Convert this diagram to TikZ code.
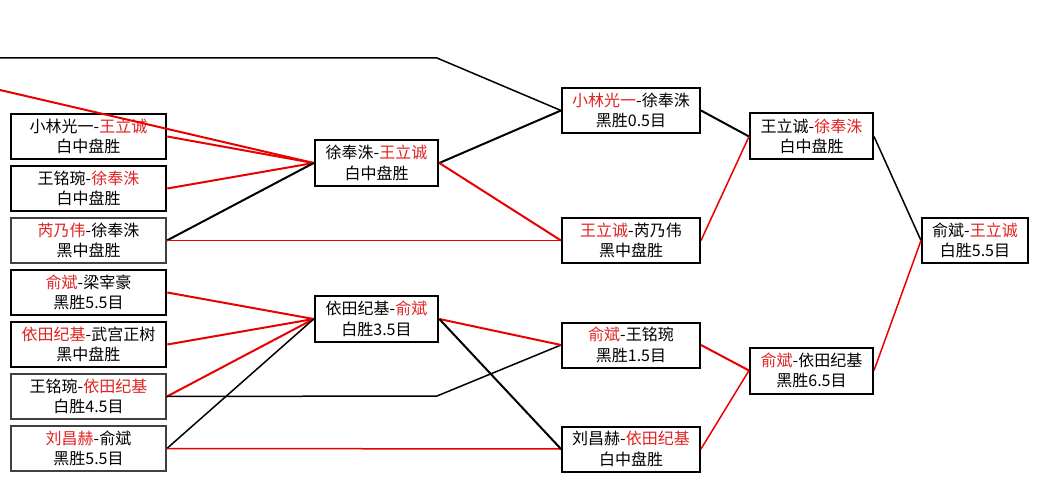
\documentclass[tikz,border=0pt]{standalone}
\usepackage{fontspec}
\newfontfamily\cjk{Noto Sans CJK SC}
\definecolor{tred}{RGB}{225,35,35}
\definecolor{lred}{RGB}{235,0,0}
\begin{document}
\begin{tikzpicture}[x=1pt,y=-1pt,
  every node/.style={font=\cjk\fontsize{16}{20.5}\selectfont, align=center, inner sep=0pt},
  box/.style={draw, line width=2pt, rectangle},
  heavy/.style={box, line width=2.6pt},
  light/.style={box, line width=1.8pt, draw=black!75},
  lw/.style={minimum width=155, minimum height=45},
  mw/.style={minimum width=123, minimum height=46},
  tw/.style={minimum width=138, minimum height=45},
  ww/.style={minimum width=106, minimum height=45},
  bl/.style={line width=2pt, black},
  rl/.style={line width=2pt, lred},
  blt/.style={line width=1.5pt, black},
  rlt/.style={line width=1.5pt, lred}
]
\fill[white] (0,0) rectangle (1039,481);
\useasboundingbox (0,0) rectangle (1039,481);
% left column
\node[heavy,lw] (L1) at (88.5,136.5) {小林光一-\textcolor{tred}{王立诚}\\白中盘胜};
\node[heavy,lw] (L2) at (88.5,188.5) {王铭琬-\textcolor{tred}{徐奉洙}\\白中盘胜};
\node[light,lw] (L3) at (88.5,240.5) {\textcolor{tred}{芮乃伟}-徐奉洙\\黑中盘胜};
\node[heavy,lw] (L4) at (88.5,292.5) {\textcolor{tred}{俞斌}-梁宰豪\\黑胜5.5目};
\node[heavy,lw] (L5) at (88.5,344.5) {\textcolor{tred}{依田纪基}-武宫正树\\黑中盘胜};
\node[light,lw] (L6) at (88.5,396.5) {王铭琬-\textcolor{tred}{依田纪基}\\白胜4.5目};
\node[light,lw] (L7) at (88.5,448.5) {\textcolor{tred}{刘昌赫}-俞斌\\黑胜5.5目};
% second column
\node[heavy,mw] (M1) at (376.5,163) {徐奉洙-\textcolor{tred}{王立诚}\\白中盘胜};
\node[heavy,mw] (M2) at (376.5,319) {依田纪基-\textcolor{tred}{俞斌}\\白胜3.5目};
% third column
\node[box,tw] (T1) at (631,110.5) {\textcolor{tred}{小林光一}-徐奉洙\\黑胜0.5目};
\node[box,tw] (T2) at (631,240.5) {\textcolor{tred}{王立诚}-芮乃伟\\黑中盘胜};
\node[box,tw] (T3) at (631,345) {\textcolor{tred}{俞斌}-王铭琬\\黑胜1.5目};
\node[box,tw] (T4) at (631,449) {刘昌赫-\textcolor{tred}{依田纪基}\\白中盘胜};
% fourth column
\node[box,mw] (F1) at (811.5,136.5) {王立诚-\textcolor{tred}{徐奉洙}\\白中盘胜};
\node[box,mw] (F2) at (811.5,370.5) {\textcolor{tred}{俞斌}-依田纪基\\黑胜6.5目};
% final
\node[box,ww] (W) at (975,240.5) {俞斌-\textcolor{tred}{王立诚}\\白胜5.5目};
% free ends and bends
\coordinate (s1) at (0,58);
\coordinate (b1) at (437,58);
\coordinate (s2) at (0,90);
\coordinate (b2) at (437,396);
% connectors, upper half
\draw[blt] (s1) -- (b1) -- (T1.west);
\draw[rl] (s2) -- (M1.west);
\draw[rl] (L1.east) -- (M1.west);
\draw[rl] (L2.east) -- (M1.west);
\draw[bl] (L3.east) -- (M1.west);
\draw[rlt] (L3.east) -- (T2.west);
\draw[bl] (M1.east) -- (T1.west);
\draw[rl] (M1.east) -- (T2.west);
\draw[bl] (T1.east) -- (F1.west);
\draw[rlt] (T2.east) -- (F1.west);
\draw[blt] (F1.east) -- (W.west);
% connectors, lower half
\draw[rl] (L4.east) -- (M2.west);
\draw[rl] (L5.east) -- (M2.west);
\draw[rl] (L6.east) -- (M2.west);
\draw[blt] (L6.east) -- (b2) -- (T3.west);
\draw[blt] (L7.east) -- (M2.west);
\draw[rlt] (L7.east) -- (T4.west);
\draw[rl] (M2.east) -- (T3.west);
\draw[bl] (M2.east) -- (T4.west);
\draw[rl] (T3.east) -- (F2.west);
\draw[rlt] (T4.east) -- (F2.west);
\draw[rlt] (F2.east) -- (W.west);
\end{tikzpicture}
\end{document}
